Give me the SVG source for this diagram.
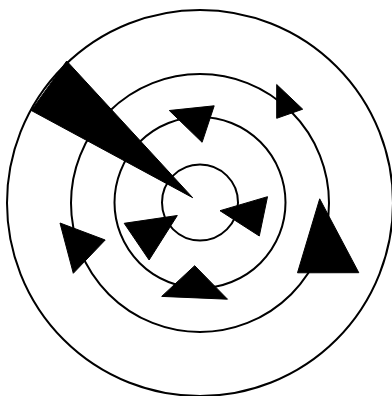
<svg xmlns="http://www.w3.org/2000/svg" width="392" height="396" viewBox="0 0 392 396">
<style>
.ring{fill:none;stroke:#000;stroke-width:2}
.head{fill:#000;stroke:#000;stroke-width:1;stroke-linejoin:miter}
</style>
<rect width="392" height="396" fill="#fff"/>
<g id="ring-outer"><circle class="ring" cx="200" cy="203" r="193"/></g>
<g id="ring-2"><circle class="ring" cx="200" cy="203" r="129"/></g>
<g id="ring-3"><circle class="ring" cx="200" cy="202.5" r="85.5"/></g>
<g id="ring-inner"><circle class="ring" cx="200" cy="202.5" r="38"/></g>
<g id="connectors">
<polygon class="head" points="66.7,61 31.3,110.5 192.7,197.7"/>
<polygon class="head" points="276.7,84.5 302.7,109.2 276.7,118.3"/>
<polygon class="head" points="169.3,110.5 214.2,105.8 202.1,142.3"/>
<polygon class="head" points="220,210.7 267.5,196.7 259.3,236"/>
<polygon class="head" points="124.2,223.3 177.3,215.5 149.1,260"/>
<polygon class="head" points="194.7,265.7 161.7,296.4 227.5,299.2"/>
<polygon class="head" points="60,223 105.2,240 73.3,273.3"/>
<polygon class="head" points="319.7,198.8 297.5,272.8 358.8,272.7"/>
</g>
</svg>
